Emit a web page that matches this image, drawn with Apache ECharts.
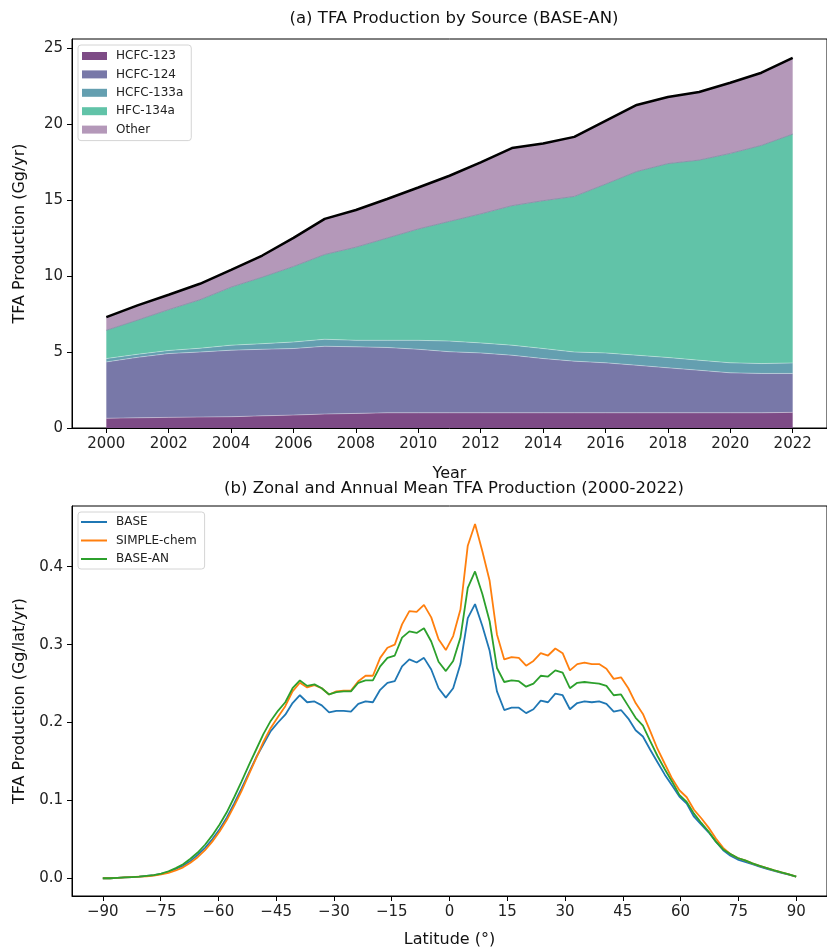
<!DOCTYPE html>
<html>
<head>
    <meta charset="utf-8">
    <title>TFA Production</title>
    <script src="https://cdn.jsdelivr.net/npm/echarts@6/dist/echarts.min.js"></script>
    <style>
        html, body { margin: 0; padding: 0; background: #fff; }
        #main { width: 827px; height: 950px; }
    </style>
</head>
<body>
<div id="main"></div>
<script type="text/javascript">
    // (a) production by source, Gg/yr
    var years = [2000, 2001, 2002, 2003, 2004, 2005, 2006, 2007, 2008, 2009, 2010, 2011,
        2012, 2013, 2014, 2015, 2016, 2017, 2018, 2019, 2020, 2021, 2022];
    var hcfc123 = [0.64, 0.67, 0.70, 0.72, 0.74, 0.80, 0.85, 0.92, 0.96, 1.00, 1.00, 1.00,
        1.00, 1.00, 1.00, 1.00, 1.00, 1.00, 1.00, 1.00, 1.00, 1.00, 1.03];
    var hcfc124 = [3.71, 3.98, 4.20, 4.28, 4.38, 4.38, 4.38, 4.46, 4.38, 4.30, 4.18, 4.02,
        3.94, 3.79, 3.57, 3.40, 3.29, 3.13, 2.96, 2.80, 2.63, 2.59, 2.56];
    var hcfc133a = [0.22, 0.20, 0.20, 0.25, 0.33, 0.37, 0.43, 0.46, 0.43, 0.47, 0.59, 0.70,
        0.66, 0.66, 0.66, 0.60, 0.65, 0.66, 0.68, 0.66, 0.66, 0.65, 0.69];
    var hfc134a = [1.86, 2.25, 2.69, 3.19, 3.82, 4.38, 4.97, 5.58, 6.13, 6.73, 7.33, 7.88,
        8.49, 9.18, 9.73, 10.24, 11.11, 12.09, 12.76, 13.17, 13.78, 14.36, 15.06];
    var other = [0.87, 0.97, 0.98, 1.05, 1.14, 1.42, 1.88, 2.34, 2.45, 2.57, 2.73, 3.00,
        3.39, 3.79, 3.76, 3.92, 4.16, 4.38, 4.38, 4.48, 4.65, 4.78, 5.02];
    var yearTicks = [2000, 2002, 2004, 2006, 2008, 2010, 2012, 2014, 2016, 2018, 2020, 2022];
    var prodTicks = [0, 5, 10, 15, 20, 25];

    // (b) zonal mean, Gg/lat/yr
    var latitudes = [-90.00, -88.11, -86.21, -84.32, -82.42, -80.53, -78.63, -76.74, -74.84, -72.95,
        -71.05, -69.16, -67.26, -65.37, -63.47, -61.58, -59.68, -57.79, -55.89, -54.00,
        -52.11, -50.21, -48.32, -46.42, -44.53, -42.63, -40.74, -38.84, -36.95, -35.05,
        -33.16, -31.26, -29.37, -27.47, -25.58, -23.68, -21.79, -19.89, -18.00, -16.11,
        -14.21, -12.32, -10.42, -8.53, -6.63, -4.74, -2.84, -0.95, 0.95, 2.84,
        4.74, 6.63, 8.53, 10.42, 12.32, 14.21, 16.11, 18.00, 19.89, 21.79,
        23.68, 25.58, 27.47, 29.37, 31.26, 33.16, 35.05, 36.95, 38.84, 40.74,
        42.63, 44.53, 46.42, 48.32, 50.21, 52.11, 54.00, 55.89, 57.79, 59.68,
        61.58, 63.47, 65.37, 67.26, 69.16, 71.05, 72.95, 74.84, 76.74, 78.63,
        80.53, 82.42, 84.32, 86.21, 88.11, 90.00];
    var base = [0.000, 0.000, 0.0005, 0.001, 0.0015, 0.002, 0.003, 0.004, 0.0055, 0.008,
        0.012, 0.016, 0.022, 0.030, 0.039, 0.050, 0.063, 0.078, 0.096, 0.115,
        0.135, 0.155, 0.172, 0.189, 0.200, 0.210, 0.225, 0.235, 0.226, 0.227,
        0.222, 0.213, 0.215, 0.215, 0.214, 0.224, 0.227, 0.226, 0.242, 0.251,
        0.253, 0.272, 0.281, 0.277, 0.283, 0.268, 0.244, 0.232, 0.244, 0.275,
        0.334, 0.352, 0.324, 0.292, 0.240, 0.216, 0.219, 0.219, 0.212, 0.217,
        0.228, 0.226, 0.237, 0.235, 0.217, 0.225, 0.227, 0.226, 0.227, 0.224,
        0.214, 0.216, 0.205, 0.190, 0.182, 0.165, 0.149, 0.133, 0.119, 0.105,
        0.096, 0.079, 0.069, 0.059, 0.047, 0.036, 0.029, 0.024, 0.021, 0.018,
        0.015, 0.012, 0.0095, 0.007, 0.0045, 0.002];
    var simpleChem = [0.000, 0.000, 0.0005, 0.001, 0.0015, 0.002, 0.0025, 0.0035, 0.005, 0.007,
        0.010, 0.014, 0.020, 0.027, 0.036, 0.047, 0.060, 0.075, 0.093, 0.112,
        0.133, 0.154, 0.175, 0.193, 0.207, 0.221, 0.240, 0.251, 0.245, 0.248,
        0.244, 0.236, 0.240, 0.241, 0.241, 0.253, 0.260, 0.260, 0.283, 0.296,
        0.300, 0.326, 0.343, 0.342, 0.351, 0.335, 0.307, 0.293, 0.311, 0.345,
        0.427, 0.455, 0.420, 0.382, 0.313, 0.281, 0.284, 0.283, 0.273, 0.279,
        0.289, 0.286, 0.295, 0.289, 0.267, 0.275, 0.277, 0.275, 0.275, 0.269,
        0.256, 0.258, 0.244, 0.225, 0.211, 0.189, 0.166, 0.147, 0.128, 0.113,
        0.104, 0.088, 0.077, 0.065, 0.051, 0.039, 0.031, 0.026, 0.023, 0.019,
        0.016, 0.013, 0.010, 0.0075, 0.005, 0.002];
    var baseAN = [0.000, 0.000, 0.0005, 0.001, 0.0015, 0.002, 0.003, 0.004, 0.006, 0.009,
        0.013, 0.018, 0.025, 0.033, 0.043, 0.055, 0.069, 0.085, 0.104, 0.124,
        0.145, 0.165, 0.185, 0.202, 0.215, 0.226, 0.244, 0.254, 0.247, 0.249,
        0.244, 0.236, 0.239, 0.240, 0.240, 0.251, 0.254, 0.254, 0.272, 0.283,
        0.286, 0.309, 0.317, 0.315, 0.321, 0.304, 0.278, 0.266, 0.279, 0.309,
        0.373, 0.394, 0.365, 0.330, 0.270, 0.252, 0.254, 0.253, 0.246, 0.250,
        0.260, 0.259, 0.267, 0.264, 0.244, 0.251, 0.252, 0.251, 0.250, 0.247,
        0.235, 0.236, 0.221, 0.206, 0.196, 0.176, 0.157, 0.140, 0.124, 0.107,
        0.098, 0.083, 0.071, 0.060, 0.047, 0.037, 0.031, 0.026, 0.023, 0.019,
        0.016, 0.013, 0.010, 0.0075, 0.005, 0.002];
    var latTicks = [-90, -75, -60, -45, -30, -15, 0, 15, 30, 45, 60, 75, 90];
    var zonalTicks = [0, 0.1, 0.2, 0.3, 0.4];

    var FONT = 'DejaVu Sans';

    function pairs(xs, ys) {
        var out = [];
        for (var i = 0; i < xs.length; i++) {
            out.push([xs[i], ys[i]]);
        }
        return out;
    }

    var total = [];
    for (var t = 0; t < years.length; t++) {
        total.push(+(hcfc123[t] + hcfc124[t] + hcfc133a[t] + hfc134a[t] + other[t]).toFixed(2));
    }

    // value first, year second: the stack then sums the value column, not the year
    function areaSeries(name, values, color, edge) {
        return {
            name: name,
            type: 'line',
            xAxisIndex: 0,
            yAxisIndex: 0,
            stack: 'src',
            data: pairs(values, years),
            encode: {x: 1, y: 0},
            symbol: 'none',
            color: color,
            lineStyle: {width: 1, color: edge},
            areaStyle: {color: color, opacity: 1},
            z: 2
        };
    }

    function zonalSeries(name, values, color) {
        return {
            name: name,
            type: 'line',
            xAxisIndex: 1,
            yAxisIndex: 1,
            data: pairs(latitudes, values),
            symbol: 'none',
            color: color,
            lineStyle: {width: 1.8, color: color}
        };
    }

    function valueAxis(grid, min, max, ticks, fmt, name, gap) {
        return {
            type: 'value',
            gridIndex: grid,
            min: min,
            max: max,
            name: name,
            nameLocation: 'middle',
            nameGap: gap,
            nameTextStyle: {color: '#111', fontSize: 16, fontFamily: FONT},
            axisLine: {show: true, onZero: false, lineStyle: {color: '#000', width: 1}},
            axisTick: {show: true, length: 5, customValues: ticks, lineStyle: {color: '#000'}},
            axisLabel: {
                customValues: ticks,
                formatter: fmt,
                color: '#222',
                fontSize: 15,
                fontFamily: FONT,
                margin: 9
            },
            splitLine: {show: false}
        };
    }

    var chart = echarts.init(document.getElementById('main'));

    var option = {
        animation: false,
        backgroundColor: '#fff',
        textStyle: {fontFamily: FONT},
        title: [
            {
                text: '(a) TFA Production by Source (BASE-AN)',
                left: 454,
                top: 10,
                padding: 0,
                textAlign: 'center',
                textStyle: {fontSize: 16.5, fontWeight: 'normal', color: '#111', fontFamily: FONT}
            },
            {
                text: '(b) Zonal and Annual Mean TFA Production (2000-2022)',
                left: 454,
                top: 480,
                padding: 0,
                textAlign: 'center',
                textStyle: {fontSize: 16.5, fontWeight: 'normal', color: '#111', fontFamily: FONT}
            }
        ],
        grid: [
            {left: 72, top: 39, right: -10, height: 389, show: true, borderColor: '#000', borderWidth: 1, backgroundColor: 'transparent'},
            {left: 72, top: 506, right: -9, height: 390, show: true, borderColor: '#000', borderWidth: 1, backgroundColor: 'transparent'}
        ],
        legend: [
            {
                data: ['HCFC-123', 'HCFC-124', 'HCFC-133a', 'HFC-134a', 'Other'],
                orient: 'vertical',
                left: 78,
                top: 45,
                icon: 'rect',
                itemWidth: 25,
                itemHeight: 8,
                itemGap: 6.4,
                padding: [5, 8, 5, 4],
                backgroundColor: '#fff',
                borderColor: '#d4d4d4',
                borderWidth: 1,
                borderRadius: 3,
                selectedMode: false,
                textStyle: {fontSize: 12, color: '#222', fontFamily: FONT, padding: [0, 0, 0, 4]}
            },
            {
                data: ['BASE', 'SIMPLE-chem', 'BASE-AN'],
                orient: 'vertical',
                left: 78,
                top: 512,
                icon: 'rect',
                itemWidth: 26,
                itemHeight: 2,
                itemGap: 6.5,
                padding: [4, 8, 4, 3],
                backgroundColor: '#fff',
                borderColor: '#d4d4d4',
                borderWidth: 1,
                borderRadius: 3,
                selectedMode: false,
                textStyle: {fontSize: 12, color: '#222', fontFamily: FONT, padding: [0, 0, 0, 4]}
            }
        ],
        xAxis: [
            valueAxis(0, 1998.9, 2023.1, yearTicks, function (v) { return String(v); }, 'Year', 38),
            valueAxis(1, -98, 98, latTicks, function (v) {
                return v < 0 ? '\u2212' + Math.abs(v) : String(v);
            }, 'Latitude (\u00b0)', 36)
        ],
        yAxis: [
            valueAxis(0, 0, 25.6, prodTicks, function (v) { return String(v); }, 'TFA Production (Gg/yr)', 44),
            valueAxis(1, -0.0228, 0.478, zonalTicks, function (v) { return v.toFixed(1); }, 'TFA Production (Gg/lat/yr)', 44)
        ],
        series: [
            areaSeries('HCFC-123', hcfc123, '#7d4b86', 'rgba(255,255,255,0.35)'),
            areaSeries('HCFC-124', hcfc124, '#7878a8', 'rgba(255,255,255,0.35)'),
            areaSeries('HCFC-133a', hcfc133a, '#649fb0', 'rgba(255,255,255,0.35)'),
            areaSeries('HFC-134a', hfc134a, '#61c3a8', '#8b92aa'),
            areaSeries('Other', other, '#b498b9', 'rgba(0,0,0,0)'),
            {
                name: 'Total',
                type: 'line',
                xAxisIndex: 0,
                yAxisIndex: 0,
                data: pairs(years, total),
                symbol: 'none',
                lineStyle: {width: 2.5, color: '#000'},
                z: 5
            },
            zonalSeries('BASE', base, '#1f77b4'),
            zonalSeries('SIMPLE-chem', simpleChem, '#ff7f0e'),
            zonalSeries('BASE-AN', baseAN, '#2ca02c')
        ]
    };

    chart.setOption(option);
</script>
</body>
</html>
